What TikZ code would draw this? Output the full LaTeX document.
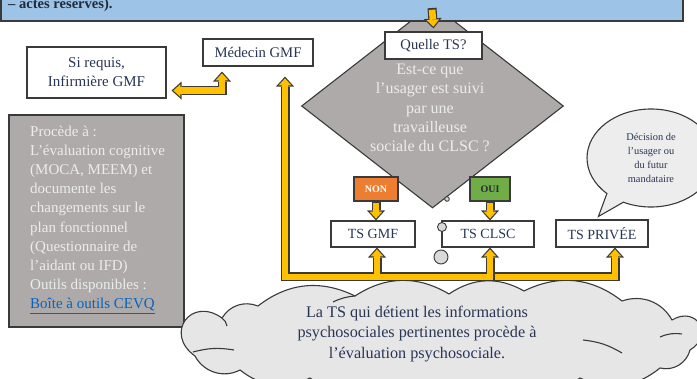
\documentclass[tikz,border=0pt]{standalone}
\usepackage{fontspec}
\setmainfont{Liberation Serif}
\usetikzlibrary{arrows.meta,shapes.geometric,shapes.callouts,calc}
\definecolor{ycol}{HTML}{FFC000}
\definecolor{edge}{HTML}{3A3A3A}
\definecolor{grayfill}{HTML}{AEAAAA}
\definecolor{lighttext}{HTML}{ECECEC}
\definecolor{navy}{HTML}{283655}
\definecolor{darktext}{HTML}{1F2A3A}
\definecolor{bluebox}{HTML}{9DC3E6}
\definecolor{nonorange}{HTML}{ED7D31}
\definecolor{ouigreen}{HTML}{70AD47}
\definecolor{cloudfill}{HTML}{E6E6E6}
\definecolor{bubblefill}{HTML}{EDEDED}
\definecolor{circfill}{HTML}{D9D9D9}
\definecolor{linkblue}{HTML}{0563C1}
\newcommand\setfs[2]{\fontsize{#1}{#2}\selectfont}
\newcommand\yellowlinks[1]{%
  \draw[#1,->] (topc) -- ([yshift=3pt]quelle.north);
  \draw[#1,<->] ([shift={(5,-8)}]sirequis.south east) -| ([shift={(-36,5)}]medecin.south);
  \draw[#1,<->] ([xshift=4pt]tsgmf.south) |- (barL) -- ([shift={(27,10)}]medecin.south);
  \draw[#1,<-] ([xshift=2pt]tsclsc.south) |- (jgmf);
  \draw[#1,->] (jclsc) -| ([xshift=13pt]tspriv.south);
  \draw[#1,->] (non.south) -- (non.south |- tsgmf.north);
  \draw[#1,->] (oui.south) -- (oui.south |- tsclsc.north);
}
\tikzset{
  yout/.style={draw=edge, line width=9pt, line join=miter,
    >={Triangle[length=10pt,width=18pt,line width=0pt]}},
  yin/.style={draw=ycol, line width=6.6pt, line join=miter,
    >={Triangle[length=7pt,width=12.6pt,line width=0pt]},
    shorten >=1.8pt, shorten <=1.8pt},
  box/.style={draw=edge, line width=1.1pt, fill=white, text=navy,
    inner sep=0pt, align=center},
  puff/.style={bend left=32},
  endpuff/.style={bend left=90, looseness=2.1},
  innerarc/.style={draw=edge, line width=1.1pt},
}
\begin{document}
\begin{tikzpicture}[x=1pt,y=-1pt]
\useasboundingbox (0,0) rectangle (697,379);
% diamond
\node[diamond, draw=edge, fill=grayfill, line width=1.1pt, minimum width=262pt,
  minimum height=204pt, inner sep=0pt] (dia) at (432.5,106) {};
% top blue box
\node[draw=edge, fill=bluebox, line width=1.2pt, minimum width=682pt,
  minimum height=41pt, inner sep=0pt] (topbox) at (342,0.5) {};
\node[anchor=base west, inner sep=0pt, font=\bfseries\setfs{14.5}{17}, text=darktext]
  (toptext) at (8,9) {– actes réservés).};
\coordinate (topc) at (432,8);
% boxes
\node[box, minimum width=97pt, minimum height=27pt, font=\setfs{14.6}{18}] (quelle) at (433.5,45.5) {Quelle TS?};
\node[box, minimum width=110pt, minimum height=27pt, font=\setfs{14.7}{18}] (medecin) at (258,52.5) {Médecin GMF};
\node[box, minimum width=139pt, minimum height=51pt, font=\setfs{15}{19}] (sirequis) at (96.5,72.5) {Si requis,\\Infirmière GMF};
\node[draw=edge, fill=grayfill, line width=1.1pt, minimum width=175pt,
  minimum height=212pt, inner sep=0pt] (leftbox) at (96.5,221) {};
\node[anchor=north west, inner sep=0pt, align=left, text=lighttext,
  font=\setfs{15}{19.2}] (lefttext) at (30,122.5)
  {\strut Procède à :\\L’évaluation cognitive\\(MOCA, MEEM) et\\documente les\\changements sur le\\plan fonctionnel\\(Questionnaire de\\l’aidant ou IFD)\\Outils disponibles :\\\textcolor{linkblue}{\underline{Boîte à outils CEVQ}}};
\node[align=center, text=lighttext, font=\setfs{16}{19.3}, inner sep=0pt] (diatext) at (430,108)
  {Est-ce que\\l’usager est suivi\\par une\\travailleuse\\sociale du CLSC ?};
\node[draw=edge, fill=nonorange, text=white, font=\bfseries\setfs{10}{12},
  minimum width=44pt, minimum height=24pt, inner sep=0pt, line width=1.1pt] (non) at (376,189) {NON};
\node[draw=edge, fill=ouigreen, text=darktext, font=\bfseries\setfs{10}{12},
  minimum width=40pt, minimum height=24pt, inner sep=0pt, line width=1.1pt] (oui) at (490,189) {OUI};
\node[box, minimum width=84pt, minimum height=26pt, font=\setfs{14}{17}] (tsgmf) at (373,234) {TS GMF};
\node[box, minimum width=92pt, minimum height=26pt, font=\setfs{14}{17}] (tsclsc) at (488,234) {TS CLSC};
\node[box, minimum width=92pt, minimum height=27pt, font=\setfs{14}{17}] (tspriv) at (602,233.5) {TS PRIVÉE};
% speech bubble
\coordinate (ptip) at ($(tspriv.north west)+(43,-3)$);
\node[ellipse callout, draw=edge, fill=bubblefill, line width=1.1pt,
  minimum width=128pt, minimum height=98pt, callout absolute pointer={(ptip)},
  callout pointer arc=18, align=center, text=navy, font=\setfs{10.4}{14},
  inner sep=0pt] (bubble) at (651,158) {Décision de\\l'usager ou\\du futur\\mandataire};
% cloud (drawn shape)
\draw[draw=edge, fill=cloudfill, line width=1.1pt]
  (222,318) to[bend left=40] (258,306) to[puff] (355,296) to[puff] (449,294)
  to[puff] (524,291) to[puff] (622,301) to[bend left=40] (672,320)
  to[endpuff] (690,350) to[bend left=45] (660,368) to[puff] (580,378) to[puff] (490,382)
  to[puff] (400,382) to[puff] (310,378) to[puff] (240,370) to[bend left=45] (195,356)
  to[endpuff] (222,318) -- cycle;
% inner arcs of the cloud
\draw[innerarc] (193,352) to[bend left=12] (234,350);
\draw[innerarc] (583,340) to[bend left=12] (622,353);
\draw[innerarc] (660,337) to[bend left=15] (682,334);
\draw[innerarc] (333,302) to[bend left=10] (355,296);
\draw[innerarc] (222,318) to[bend left=20] (227,326);
\node[align=center, text=navy, font=\setfs{16.2}{20.3}, inner sep=0pt] (cloudtext) at (417,334)
  {La TS qui détient les informations\\psychosociales pertinentes procède à\\l’évaluation psychosociale.};
% junction coordinates
\coordinate (barL) at (285,277);
\coordinate (jgmf) at ($(tsgmf.south |- barL)+(4,0)$);
\coordinate (jclsc) at ($(tsclsc.south |- barL)+(5,0)$);
% yellow connectors
\yellowlinks{yout}
\yellowlinks{yin}
% small circles
\node[circle, draw=edge, fill=circfill, line width=0.9pt, minimum size=4.6pt, inner sep=0pt] (c1) at (447,199) {};
\node[circle, draw=edge, fill=circfill, line width=0.9pt, minimum size=9pt, inner sep=0pt] (c2) at (442,227) {};
\node[circle, draw=edge, fill=circfill, line width=0.9pt, minimum size=14pt, inner sep=0pt] (c3) at (441,257) {};
\end{tikzpicture}
\end{document}
